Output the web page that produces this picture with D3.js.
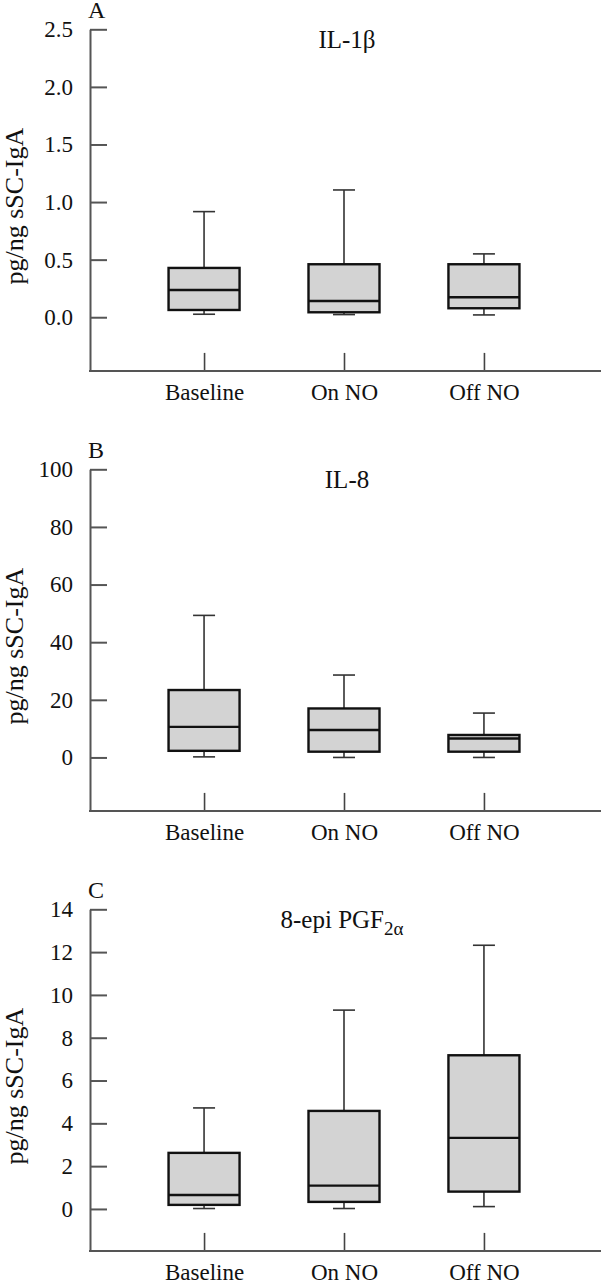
<!DOCTYPE html>
<html>
<head>
<meta charset="utf-8">
<script src="https://cdn.jsdelivr.net/npm/d3@7"></script>
<style>
  html, body { margin: 0; padding: 0; background: #fff; }
  svg { display: block; }
  text { font-family: "Liberation Serif", "Times New Roman", serif; fill: #111; }
</style>
</head>
<body>
<svg id="chart" width="601" height="1280"></svg>
<script>
// ---- data ----
const categories = ["Baseline", "On NO", "Off NO"];

const il1bLow    = [0.026, 0.023, 0.02];
const il1bQ1     = [0.063, 0.043, 0.078];
const il1bMedian = [0.237, 0.141, 0.174];
const il1bQ3     = [0.428, 0.46, 0.46];
const il1bHigh   = [0.917, 1.105, 0.55];
const il1bTicks  = [0, 0.5, 1.0, 1.5, 2.0, 2.5];

const il8Low    = [0.2, 0, 0];
const il8Q1     = [2.3, 2.0, 2.0];
const il8Median = [10.6, 9.5, 6.6];
const il8Q3     = [23.4, 17.0, 7.8];
const il8High   = [49.3, 28.6, 15.4];
const il8Ticks  = [0, 20, 40, 60, 80, 100];

const pgfLow    = [0.02, 0.02, 0.11];
const pgfQ1     = [0.19, 0.33, 0.81];
const pgfMedian = [0.65, 1.09, 3.32];
const pgfQ3     = [2.62, 4.58, 7.18];
const pgfHigh   = [4.72, 9.29, 12.32];
const pgfTicks  = [0, 2, 4, 6, 8, 10, 12, 14];

const yLabel = "pg/ng sSC-IgA";

// ---- layout ----
const svg = d3.select("#chart");
const W = 601;
const axisX = 90;
const panelH = 341.6;

const panels = [
  { letter: "A", title: "IL-1β", sub: null, top: 29.3, yMin: -0.466, ticks: il1bTicks, fmt: d3.format(".1f"),
    low: il1bLow, q1: il1bQ1, med: il1bMedian, q3: il1bQ3, high: il1bHigh, titleDx: 3 },
  { letter: "B", title: "IL-8", sub: null, top: 469.3, yMin: -18.55, ticks: il8Ticks, fmt: d3.format("d"),
    low: il8Low, q1: il8Q1, med: il8Median, q3: il8Q3, high: il8High, titleDx: 3 },
  { letter: "C", title: "8-epi PGF", sub: "2α", top: 909.3, yMin: -1.96, ticks: pgfTicks, fmt: d3.format("d"),
    low: pgfLow, q1: pgfQ1, med: pgfMedian, q3: pgfQ3, high: pgfHigh, titleDx: -2 }
];

const x = d3.scalePoint().domain(categories).range([axisX, 598]).padding(0.815);
const boxHalf = 35.5;
const capHalf = 11;

panels.forEach(p => {
  const bottom = p.top + panelH;
  const yMax = p.ticks[p.ticks.length - 1];
  const y = d3.scaleLinear().domain([p.yMin, yMax]).range([bottom, p.top]);
  const g = svg.append("g");

  // y axis
  const yAxis = d3.axisLeft(y).tickValues(p.ticks).tickFormat(p.fmt)
    .tickSizeInner(-17).tickSizeOuter(0).tickPadding(17);
  const ya = g.append("g").attr("transform", `translate(${axisX},0)`).call(yAxis);
  ya.select(".domain").attr("stroke", "#555").attr("stroke-width", 2);
  ya.selectAll(".tick line").attr("stroke", "#555").attr("stroke-width", 2);
  ya.selectAll(".tick text").style("font-size", "23px").attr("fill", "#111")
    .style("font-family", '"Liberation Serif", "Times New Roman", serif');

  // x axis
  const xAxis = d3.axisBottom(x).tickSizeInner(-18).tickSizeOuter(0).tickPadding(13);
  const xa = g.append("g").attr("transform", `translate(0,${bottom})`).call(xAxis);
  xa.select(".domain").remove();
  xa.selectAll(".tick line").attr("stroke", "#444").attr("stroke-width", 1.6);
  xa.selectAll(".tick text").style("font-size", "23px").attr("fill", "#111")
    .style("font-family", '"Liberation Serif", "Times New Roman", serif');
  g.append("line").attr("x1", axisX - 1).attr("x2", W).attr("y1", bottom).attr("y2", bottom)
    .attr("stroke", "#555").attr("stroke-width", 2);

  // boxes
  const data = categories.map((c, i) => ({ c, low: p.low[i], q1: p.q1[i], med: p.med[i], q3: p.q3[i], high: p.high[i] }));
  const bg = g.selectAll(".box").data(data).join("g").attr("class", "box");
  // whiskers
  bg.append("line").attr("x1", d => x(d.c)).attr("x2", d => x(d.c))
    .attr("y1", d => y(d.q3)).attr("y2", d => y(d.high)).attr("stroke", "#333").attr("stroke-width", 1.6);
  bg.append("line").attr("x1", d => x(d.c)).attr("x2", d => x(d.c))
    .attr("y1", d => y(d.q1)).attr("y2", d => y(d.low)).attr("stroke", "#333").attr("stroke-width", 1.6);
  bg.append("line").attr("x1", d => x(d.c) - capHalf).attr("x2", d => x(d.c) + capHalf)
    .attr("y1", d => y(d.high)).attr("y2", d => y(d.high)).attr("stroke", "#333").attr("stroke-width", 1.6);
  bg.append("line").attr("x1", d => x(d.c) - capHalf).attr("x2", d => x(d.c) + capHalf)
    .attr("y1", d => y(d.low)).attr("y2", d => y(d.low)).attr("stroke", "#333").attr("stroke-width", 1.6);
  // box
  bg.append("rect").attr("x", d => x(d.c) - boxHalf).attr("width", boxHalf * 2)
    .attr("y", d => y(d.q3)).attr("height", d => y(d.q1) - y(d.q3))
    .attr("fill", "#d3d3d3").attr("stroke", "#111").attr("stroke-width", 2.4);
  bg.append("line").attr("x1", d => x(d.c) - boxHalf).attr("x2", d => x(d.c) + boxHalf)
    .attr("y1", d => y(d.med)).attr("y2", d => y(d.med)).attr("stroke", "#111").attr("stroke-width", 2.4);

  // panel letter
  g.append("text").attr("x", axisX - 2).attr("y", p.top - 11).style("font-size", "24px").text(p.letter);

  // title
  const t = g.append("text").attr("x", x("On NO") + p.titleDx).attr("y", p.top + 19)
    .attr("text-anchor", "middle").style("font-size", "25px");
  t.append("tspan").text(p.title);
  if (p.sub) t.append("tspan").attr("dy", 7).style("font-size", "19px").text(p.sub);

  // y label
  g.append("text").attr("transform", `translate(23,${(p.top + bottom) / 2 + 6}) rotate(-90)`)
    .attr("text-anchor", "middle").style("font-size", "26px").text(yLabel);
});
</script>
</body>
</html>
